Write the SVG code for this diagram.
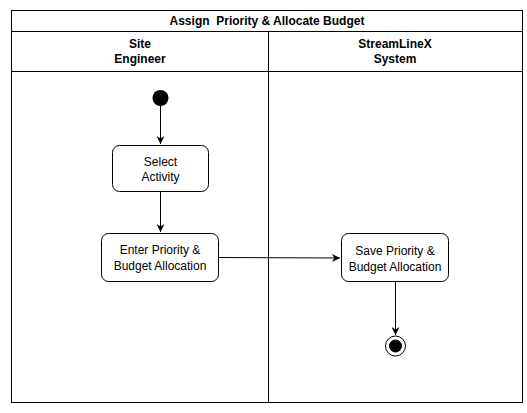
<svg xmlns="http://www.w3.org/2000/svg" width="527" height="413" viewBox="0 0 527 413">
<style>
.frame{fill:#fff;stroke:#000;stroke-width:1}
.node{fill:#fff;stroke:#000;stroke-width:1}
.hd{font-family:"Liberation Sans",Arial,sans-serif;font-size:12px;font-weight:bold;fill:#000;text-anchor:middle}
.lb{font-family:"Liberation Sans",Arial,sans-serif;font-size:12px;fill:#000;text-anchor:middle}
.edge{fill:none;stroke:#000;stroke-width:1}
</style>
<defs>
<marker id="arr" viewBox="0 0 10 10" refX="10" refY="5" markerWidth="8" markerHeight="8" markerUnits="userSpaceOnUse" orient="auto">
<path d="M0,0 L10,5 L0,10 L3,5 Z" fill="#000"/>
</marker>
</defs>
<rect width="527" height="413" fill="#fff"/>
<g id="pool">
<rect class="frame" x="11.5" y="10.5" width="511" height="392"/>
<line class="frame" x1="11.5" y1="31.5" x2="522.5" y2="31.5"/>
<line class="frame" x1="11.5" y1="71.5" x2="522.5" y2="71.5"/>
<line class="frame" x1="268.5" y1="31.5" x2="268.5" y2="402.5"/>
<text class="hd" x="267" y="25" xml:space="preserve" style="white-space:pre">Assign  Priority &amp; Allocate Budget</text>
<text class="hd" x="140" y="48">Site</text>
<text class="hd" x="140" y="63">Engineer</text>
<text class="hd" x="395" y="48">StreamLineX</text>
<text class="hd" x="395" y="63">System</text>
</g>
<g id="connectors">
<line class="edge" x1="160.5" y1="106" x2="160.5" y2="144" marker-end="url(#arr)"/>
<line class="edge" x1="160.5" y1="192" x2="160.5" y2="232" marker-end="url(#arr)"/>
<line class="edge" x1="218" y1="257.5" x2="340" y2="258" marker-end="url(#arr)"/>
<line class="edge" x1="395.5" y1="282" x2="395.5" y2="335" marker-end="url(#arr)"/>
</g>
<g id="start">
<circle cx="160.5" cy="98" r="8" fill="#000"/>
</g>
<g id="select">
<rect class="node" x="112.5" y="145.5" width="96" height="46" rx="7"/>
<text class="lb" x="160.5" y="166">Select</text>
<text class="lb" x="160.5" y="181">Activity</text>
</g>
<g id="enter">
<rect class="node" x="101.5" y="233.5" width="117" height="48" rx="7"/>
<text class="lb" x="160" y="254">Enter Priority &amp;</text>
<text class="lb" x="160" y="270">Budget Allocation</text>
</g>
<g id="save">
<rect class="node" x="341.5" y="233.5" width="107" height="48" rx="7"/>
<text class="lb" x="395" y="255">Save Priority &amp;</text>
<text class="lb" x="395" y="271">Budget Allocation</text>
</g>
<g id="end">
<circle cx="395.5" cy="346" r="10" fill="#fff" stroke="#000" stroke-width="1"/>
<circle cx="395.5" cy="346" r="6.5" fill="#000"/>
</g>
</svg>
